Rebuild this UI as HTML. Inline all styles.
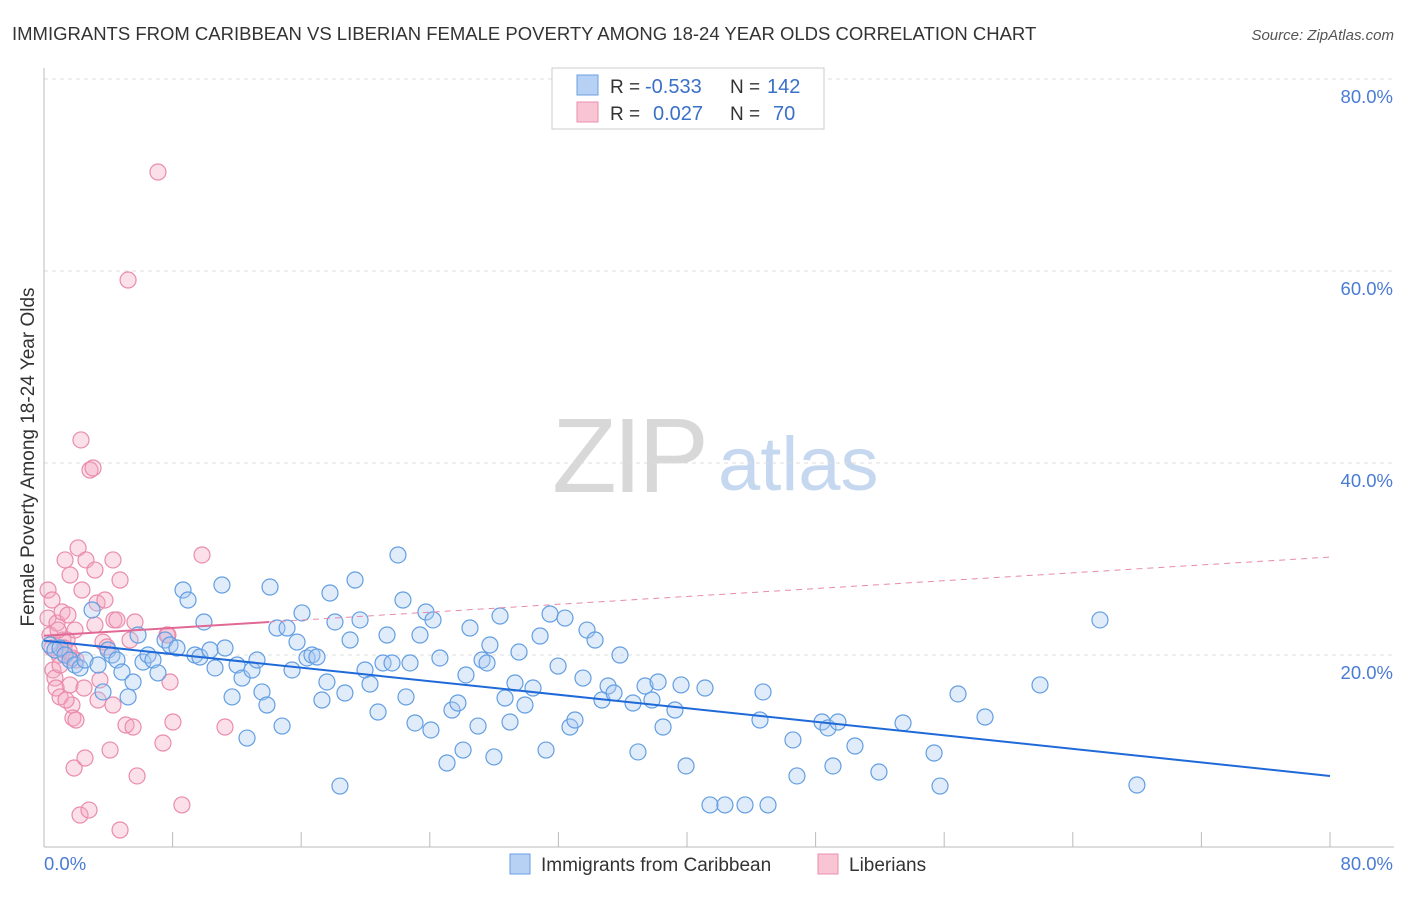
<!DOCTYPE html>
<html><head><meta charset="utf-8"><style>
body{margin:0;background:#fff;font-family:"Liberation Sans",sans-serif}
svg text{font-family:"Liberation Sans",sans-serif}
</style></head><body>
<svg id="c" width="1406" height="892" xmlns="http://www.w3.org/2000/svg">
<text x="12" y="40" font-size="18.5" fill="#333">IMMIGRANTS FROM CARIBBEAN VS LIBERIAN FEMALE POVERTY AMONG 18-24 YEAR OLDS CORRELATION CHART</text>
<text x="1394" y="40" font-size="15" fill="#555" font-style="italic" text-anchor="end">Source: ZipAtlas.com</text>
<text x="34" y="457" font-size="19" fill="#333" text-anchor="middle" transform="rotate(-90 34 457)">Female Poverty Among 18-24 Year Olds</text>
<g><text x="552" y="492" font-size="106" fill="#d8d8d8" font-family="Liberation Serif" letter-spacing="-4">ZIP</text><text x="718" y="490" font-size="76" fill="#c5d8f0">atlas</text></g>
<g id="grid"></g><g id="pts"></g><g id="lines"></g>
<g>
<rect x="552" y="68" width="272" height="61" fill="#fff" stroke="#ccc"/>
<rect x="577" y="75" width="21" height="20" fill="#b6d1f4" stroke="#6a9fe0"/>
<rect x="577" y="102" width="21" height="20" fill="#f9c4d4" stroke="#eb8fae"/>
<text x="610" y="93" font-size="19" fill="#333">R =</text>
<text x="645" y="93" font-size="20" fill="#3a70c8">-0.533</text>
<text x="730" y="93" font-size="19" fill="#333">N =</text>
<text x="767" y="93" font-size="20" fill="#3a70c8">142</text>
<text x="610" y="120" font-size="19" fill="#333">R =</text>
<text x="653" y="120" font-size="20" fill="#3a70c8">0.027</text>
<text x="730" y="120" font-size="19" fill="#333">N =</text>
<text x="773" y="120" font-size="20" fill="#3a70c8">70</text>
</g>
<g>
<rect x="510" y="854" width="20" height="20" fill="#b6d1f4" stroke="#6a9fe0"/>
<text x="541" y="871" font-size="19" fill="#333">Immigrants from Caribbean</text>
<rect x="818" y="854" width="20" height="20" fill="#f9c4d4" stroke="#eb8fae"/>
<text x="849" y="871" font-size="19" fill="#333">Liberians</text>
</g>
</svg>
<script>
const xTicks=[0,80];
const yTicks=[20,40,60,80];
const blueX=[],blueY=[],pinkX=[],pinkY=[];
const bluePx=[[50,645],[55,650],[60,648],[65,655],[70,660],[75,665],[80,668],[85,660],[92,610],[98,665],[103,692],[108,650],[112,655],[117,660],[122,672],[128,697],[133,682],[138,635],[143,662],[148,655],[153,660],[158,673],[165,640],[170,645],[177,648],[183,590],[188,600],[195,655],[200,657],[204,622],[210,650],[215,668],[222,585],[225,648],[232,697],[237,665],[242,678],[247,738],[252,670],[257,660],[262,692],[267,705],[270,587],[277,628],[282,726],[287,628],[292,670],[297,642],[302,613],[307,658],[312,655],[317,657],[322,700],[327,682],[330,593],[335,622],[340,786],[345,693],[350,640],[355,580],[360,620],[365,670],[370,684],[378,712],[383,663],[387,635],[392,663],[398,555],[403,600],[406,697],[410,663],[415,723],[420,635],[426,612],[431,730],[433,620],[440,658],[447,763],[452,710],[458,703],[463,750],[466,675],[470,628],[478,726],[482,660],[487,663],[490,645],[494,757],[500,616],[505,698],[510,722],[515,683],[519,652],[525,705],[533,688],[540,636],[546,750],[550,614],[558,666],[565,618],[570,727],[575,720],[583,678],[587,630],[595,640],[602,700],[608,686],[614,693],[620,655],[633,703],[638,752],[645,686],[652,700],[658,682],[663,727],[675,710],[686,766],[681,685],[705,688],[710,805],[725,805],[745,805],[760,720],[763,692],[768,805],[793,740],[797,776],[822,722],[828,728],[833,766],[838,722],[855,746],[879,772],[903,723],[934,753],[940,786],[958,694],[985,717],[1040,685],[1100,620],[1137,785]];
const pinkPx=[[48,590],[48,618],[50,635],[52,648],[53,670],[55,678],[57,623],[59,655],[60,665],[62,612],[63,640],[65,560],[67,640],[68,615],[70,575],[70,685],[72,705],[72,658],[73,718],[74,768],[75,630],[76,720],[76,660],[78,548],[80,815],[81,440],[82,590],[84,688],[85,758],[86,560],[89,810],[90,470],[93,468],[95,570],[95,625],[97,603],[98,700],[100,680],[103,642],[105,600],[107,647],[110,750],[113,560],[113,705],[114,620],[117,620],[120,580],[120,830],[126,725],[128,280],[130,640],[133,727],[135,622],[137,776],[158,172],[163,743],[167,635],[168,635],[170,682],[173,722],[182,805],[202,555],[225,727],[52,600],[56,688],[60,697],[66,700],[58,630],[64,648],[69,651]];
bluePx.forEach(p=>{blueX.push(+((p[0]-44)/16.075).toFixed(2));blueY.push(+((847-p[1])/9.6).toFixed(2));});
pinkPx.forEach(p=>{pinkX.push(+((p[0]-44)/16.075).toFixed(2));pinkY.push(+((847-p[1])/9.6).toFixed(2));});
const blueTrend=[21.5,7.4];
const pinkTrend=[22.0,30.2];
const NS="http://www.w3.org/2000/svg";
const sx=v=>44+v*16.075, sy=v=>847-v*9.6;
function mk(t,a,p){const e=document.createElementNS(NS,t);for(const k in a)e.setAttribute(k,a[k]);p.appendChild(e);return e;}
const g=document.getElementById('grid');
yTicks.forEach(t=>{
 const l=mk('line',{x1:44,x2:1394,y1:sy(t),y2:sy(t),stroke:'#ddd','stroke-dasharray':'4,4'},g);
 
 
 const tx=mk('text',{x:1393,y:sy(t)+24,'font-size':18.5,fill:'#4a7bd4','text-anchor':'end'},g);tx.textContent=t.toFixed(1)+'%';
 
 
});
const ax=mk('line',{x1:44,x2:44,y1:68,y2:847,stroke:'#bbb'},g);


const bx=mk('line',{x1:44,x2:1394,y1:847,y2:847,stroke:'#bbb'},g);


for(let i=0;i<=10;i++){const t=mk('line',{x1:sx(i*8),x2:sx(i*8),y1:832,y2:847,stroke:'#bbb'},g);
 
 }
xTicks.forEach((t,i)=>{const tx=mk('text',{x:i?1393:44,y:870,'font-size':18.5,fill:'#4a7bd4','text-anchor':i?'end':'start'},g);tx.textContent=t.toFixed(1)+'%';
 
 });
const P=document.getElementById('pts');
pinkX.forEach((x,i)=>{const c=mk('circle',{cx:sx(x),cy:sy(pinkY[i]),r:8,fill:'rgba(244,166,191,0.35)',stroke:'#ea8bab','stroke-width':1.2},P);
 
 });
blueX.forEach((x,i)=>{const c=mk('circle',{cx:sx(x),cy:sy(blueY[i]),r:8,fill:'rgba(168,200,240,0.35)',stroke:'#629ee2','stroke-width':1.2},P);
 
 });
const L=document.getElementById('lines');
const bl=mk('line',{x1:sx(0),y1:sy(blueTrend[0]),x2:sx(80),y2:sy(blueTrend[1]),stroke:'#1f6ad8','stroke-width':2},L);


const pe=14;const pm=pinkTrend[0]+(pinkTrend[1]-pinkTrend[0])*pe/80;
const pl=mk('line',{x1:sx(0),y1:sy(pinkTrend[0]),x2:sx(pe),y2:sy(pm),stroke:'#e06a95','stroke-width':2},L);


const pd=mk('line',{x1:sx(pe),y1:sy(pm),x2:sx(80),y2:sy(pinkTrend[1]),stroke:'#e88aab','stroke-width':1,'stroke-dasharray':'6,5'},L);


</script>
</body></html>
